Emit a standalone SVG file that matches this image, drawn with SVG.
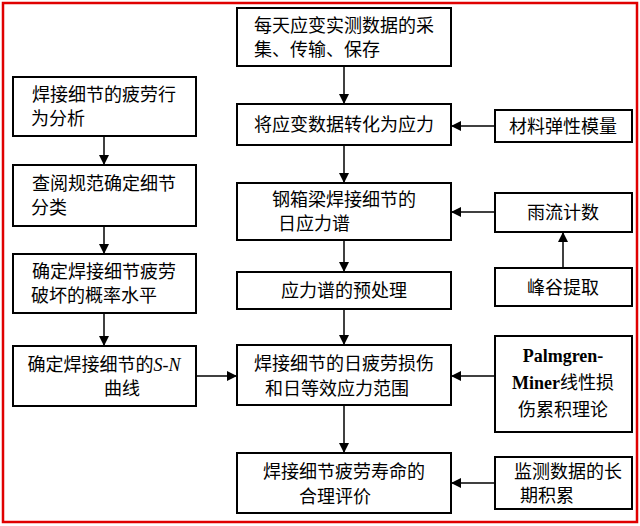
<svg xmlns="http://www.w3.org/2000/svg" width="640" height="526" viewBox="0 0 640 526">
<defs><marker id="a" markerWidth="10" markerHeight="10" refX="9" refY="5" orient="auto" markerUnits="userSpaceOnUse"><path d="M0,0 L10,5 L0,10 Z" fill="#000"/></marker></defs>
<style>
rect.b{fill:#fff;stroke:#000;stroke-width:2}
text{font-family:"Liberation Serif","Noto Sans CJK SC",serif;font-size:18px;text-anchor:middle;fill:#000}
text.s{text-anchor:start}
line{stroke:#000;stroke-width:1.5;marker-end:url(#a)}
</style>
<rect x="3" y="3" width="634" height="519" fill="#fff" stroke="#e00000" stroke-width="2.5"/>
<g id="c1"><rect class="b" x="237" y="8" width="214" height="58"/><text x="344" y="32">每天应变实测数据的采</text><text class="s" x="254" y="56">集、传输、保存</text></g>
<g id="c2"><rect class="b" x="237" y="104" width="214" height="41"/><text x="344" y="131">将应变数据转化为应力</text></g>
<g id="c3"><rect class="b" x="237" y="183" width="214" height="57"/><text x="344" y="206">钢箱梁焊接细节的</text><text x="314" y="230">日应力谱</text></g>
<g id="c4"><rect class="b" x="237" y="272" width="214" height="37"/><text x="344" y="297">应力谱的预处理</text></g>
<g id="c5"><rect class="b" x="237" y="345" width="214" height="60"/><text x="344" y="370">焊接细节的日疲劳损伤</text><text x="337" y="395">和日等效应力范围</text></g>
<g id="c6"><rect class="b" x="237" y="453" width="214" height="60"/><text x="344" y="478">焊接细节疲劳寿命的</text><text x="335" y="503">合理评价</text></g>
<g id="l1"><rect class="b" x="13" y="77" width="183" height="59"/><text x="104" y="101">焊接细节的疲劳行</text><text class="s" x="31" y="125">为分析</text></g>
<g id="l2"><rect class="b" x="13" y="165" width="183" height="61"/><text x="104" y="190">查阅规范确定细节</text><text class="s" x="31" y="214">分类</text></g>
<g id="l3"><rect class="b" x="13" y="254" width="183" height="59"/><text x="104" y="278">确定焊接细节疲劳</text><text class="s" x="31" y="302">破坏的概率水平</text></g>
<g id="l4"><rect class="b" x="13" y="346" width="183" height="60"/><text x="104" y="371">确定焊接细节的<tspan font-style="italic">S-N</tspan></text><text x="122" y="395">曲线</text></g>
<g id="r1"><rect class="b" x="495" y="110" width="137" height="32"/><text x="563" y="133">材料弹性模量</text></g>
<g id="r2"><rect class="b" x="495" y="193" width="137" height="39"/><text x="563" y="219">雨流计数</text></g>
<g id="r3"><rect class="b" x="495" y="268" width="137" height="38"/><text x="563" y="294">峰谷提取</text></g>
<g id="r4"><rect class="b" x="495" y="336" width="137" height="96"/><text x="563" y="362" font-weight="bold">Palmgren-</text><text x="563" y="389"><tspan font-weight="bold">Miner</tspan>线性损</text><text x="563" y="416">伤累积理论</text></g>
<g id="r5"><rect class="b" x="495" y="457" width="137" height="52"/><text x="568" y="478">监测数据的长</text><text class="s" x="520" y="502">期积累</text></g>
<g id="connectors">
<line x1="344" y1="66" x2="344" y2="103"/>
<line x1="344" y1="145" x2="344" y2="182"/>
<line x1="344" y1="240" x2="344" y2="271"/>
<line x1="344" y1="309" x2="344" y2="344"/>
<line x1="344" y1="405" x2="344" y2="452"/>
<line x1="495" y1="126" x2="452" y2="126"/>
<line x1="495" y1="212" x2="452" y2="212"/>
<line x1="495" y1="376" x2="452" y2="376"/>
<line x1="495" y1="483" x2="452" y2="483"/>
<line x1="563" y1="268" x2="563" y2="233"/>
<line x1="104" y1="136" x2="104" y2="164"/>
<line x1="104" y1="226" x2="104" y2="253"/>
<line x1="104" y1="313" x2="104" y2="345"/>
<line x1="196" y1="376" x2="236" y2="376"/>
</g>
</svg>
